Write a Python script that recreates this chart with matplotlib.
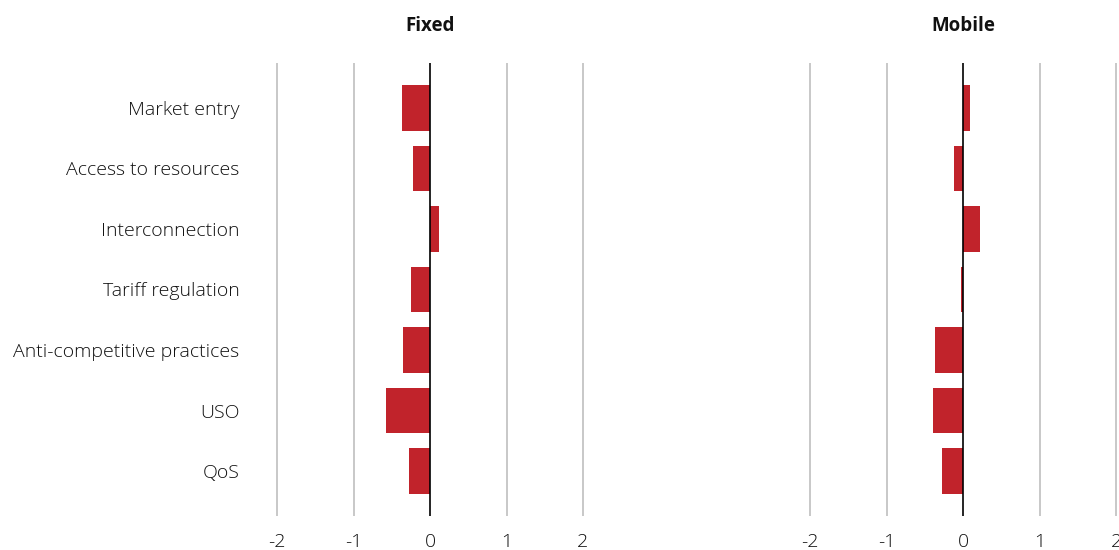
import numpy as np
import matplotlib.pyplot as plt

categories = ["Market entry", "Access to resources", "Interconnection",
              "Tariff regulation", "Anti-competitive practices", "USO", "QoS"]
fixed = [-0.37, -0.22, 0.12, -0.25, -0.35, -0.58, -0.27]
mobile = [0.09, -0.12, 0.22, -0.03, -0.37, -0.40, -0.28]
titles = ["Fixed", "Mobile"]

plt.rcParams["font.family"] = ["Open Sans", "DejaVu Sans"]

fig = plt.figure(figsize=(11.19, 5.5), dpi=100)
W, H = 1119, 550
ppu = 76.5
x0_px = [430, 963.3]
xlim = (-2.2, 2.2)
top, bot = 63, 516

y = np.arange(len(categories))
for i, (vals, title) in enumerate(zip([fixed, mobile], titles)):
    left = x0_px[i] - ppu * 2.2
    ax = fig.add_axes([left / W, (H - bot) / H, ppu * 4.4 / W, (bot - top) / H])
    ax.barh(y, vals, height=0.755, color="#C1232B", zorder=3)
    ax.set_xlim(*xlim)
    ax.set_ylim(len(categories) - 1 + 0.74, -0.74)
    for v in [-2, -1, 1, 2]:
        ax.axvline(v, color="#c4c4c4", lw=1.3, zorder=1)
    ax.axvline(0, color="black", lw=1.2, zorder=4)
    ax.set_xticks([-2, -1, 0, 1, 2])
    ax.set_xticklabels(["-2", "-1", "0", "1", "2"], fontweight="light")
    ax.tick_params(axis="x", length=0, pad=12, labelsize=14, labelcolor="#111111")
    if i == 0:
        ax.set_yticks(y)
        ax.set_yticklabels(categories, fontweight="light")
        ax.tick_params(axis="y", length=0, pad=16, labelsize=14, labelcolor="#111111")
    else:
        ax.set_yticks([])
    for s in ax.spines.values():
        s.set_visible(False)
    ax.set_title(title, fontsize=13.5, fontweight="bold", pad=23, color="#111111")

plt.savefig("out.png", dpi=100)
